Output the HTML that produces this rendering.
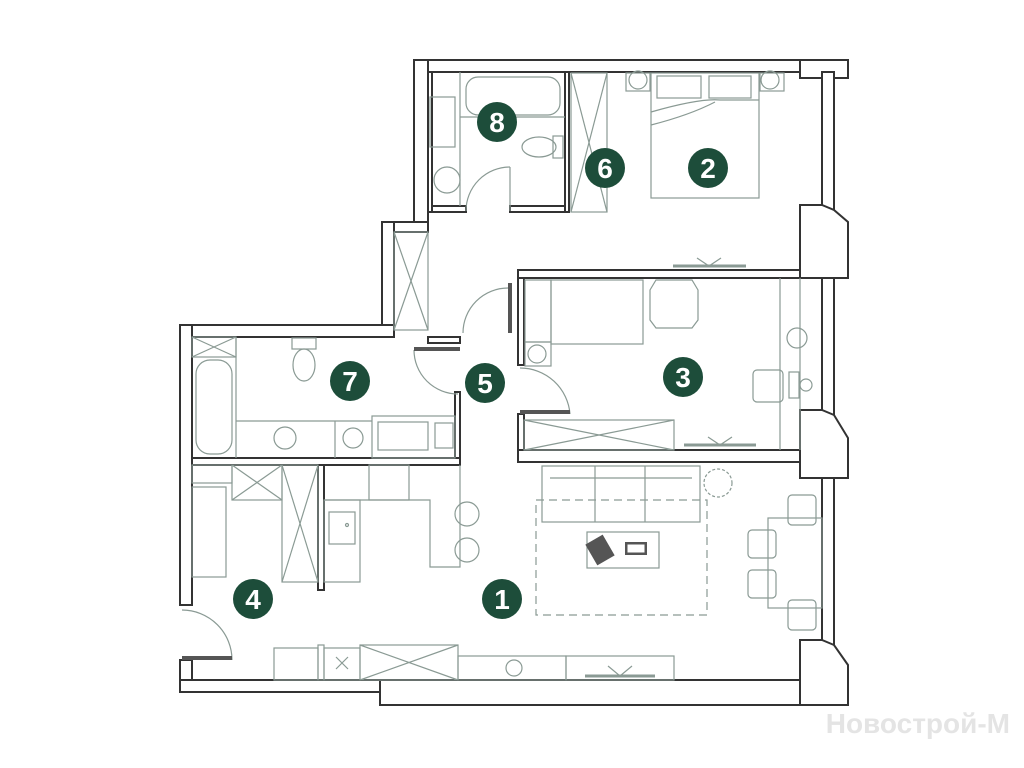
<!DOCTYPE html>
<html><head><meta charset="utf-8"><style>
html,body{margin:0;padding:0;background:#fff;}
svg{display:block}
</style></head><body>
<svg width="1024" height="768" viewBox="0 0 1024 768" xmlns="http://www.w3.org/2000/svg">
<rect width="1024" height="768" fill="#fff"/>
<g fill="#fff" stroke="#333" stroke-width="2">
<rect x="414" y="60" width="434" height="12"/>
<rect x="800" y="60" width="48" height="18"/>
<rect x="414" y="60" width="14" height="172"/>
<rect x="382" y="222" width="46" height="10"/>
<rect x="382" y="222" width="12" height="110"/>
<rect x="180" y="325" width="214" height="12"/>
<rect x="180" y="325" width="12" height="280"/>
<rect x="180" y="660" width="12" height="32"/>
<rect x="180" y="680" width="200" height="12"/>
<rect x="380" y="680" width="468" height="25"/>
<rect x="822" y="72" width="12" height="633"/>
<polygon points="800,205 822,205 834,210 848,222 848,278 800,278"/>
<polygon points="800,410 822,410 834,415 848,438 848,478 800,478"/>
<polygon points="800,640 822,640 834,645 848,665 848,705 800,705"/>
</g>
<g fill="#fff" stroke="#333" stroke-width="2">
<rect x="518" y="270" width="282" height="8"/>
<rect x="518" y="450" width="282" height="12"/>
<rect x="518" y="278" width="6" height="87"/>
<rect x="518" y="414" width="6" height="36"/>
<rect x="192" y="458" width="268" height="7"/>
<rect x="455" y="392" width="5" height="66"/>
<rect x="428" y="337" width="32" height="6"/>
<rect x="318" y="465" width="6" height="125"/>
<rect x="428" y="206" width="38" height="6"/>
<rect x="510" y="206" width="58" height="6"/>
<rect x="565" y="72" width="4" height="140"/>
<rect x="428" y="72" width="4" height="140"/>
</g>
<g fill="none" stroke="#8a9a94" stroke-width="1.2">
<rect x="466" y="77" width="94" height="38" rx="12"/>
<line x1="460" y1="117" x2="565" y2="117"/>
<line x1="460" y1="72" x2="460" y2="206"/>
<rect x="430" y="97" width="25" height="50"/>
<circle cx="447" cy="180" r="13"/>
<ellipse cx="539" cy="147" rx="17" ry="10"/>
<rect x="553" y="136" width="10" height="22"/>
<rect x="571" y="73" width="36" height="139"/>
<line x1="571" y1="73" x2="607" y2="212"/><line x1="607" y1="73" x2="571" y2="212"/>
<rect x="651" y="73" width="108" height="125"/>
<rect x="626" y="73" width="24" height="18"/><circle cx="638" cy="80" r="9"/>
<rect x="760" y="73" width="24" height="18"/><circle cx="770" cy="80" r="9"/>
<rect x="657" y="76" width="44" height="22"/><rect x="709" y="76" width="42" height="22"/>
<path d="M651 112 Q700 98 720 100 L759 100"/><path d="M651 125 Q690 115 715 102"/>
<line x1="673" y1="266" x2="746" y2="266" stroke-width="3"/>
<path d="M697 258 L709 266 L721 258"/>
<rect x="394" y="232" width="34" height="98"/>
<line x1="394" y1="232" x2="428" y2="330"/><line x1="428" y1="232" x2="394" y2="330"/>
<rect x="525" y="280" width="26" height="62"/>
<rect x="551" y="280" width="92" height="64"/>
<rect x="525" y="342" width="26" height="24"/><circle cx="537" cy="354" r="9"/>
<polygon points="656,280 692,280 698,290 698,320 692,328 656,328 650,320 650,290"/>
<line x1="780" y1="278" x2="780" y2="450"/><line x1="800" y1="278" x2="800" y2="450"/>
<circle cx="797" cy="338" r="10"/>
<rect x="753" y="370" width="30" height="32" rx="4"/>
<rect x="789" y="372" width="10" height="26"/>
<circle cx="806" cy="385" r="6"/>
<rect x="524" y="420" width="150" height="30"/>
<line x1="524" y1="420" x2="674" y2="450"/><line x1="674" y1="420" x2="524" y2="450"/>
<line x1="684" y1="445" x2="756" y2="445" stroke-width="3"/>
<path d="M708 437 L720 445 L732 437"/>
<rect x="192" y="337" width="44" height="20"/>
<line x1="192" y1="337" x2="236" y2="357"/><line x1="236" y1="337" x2="192" y2="357"/>
<rect x="196" y="360" width="36" height="94" rx="14"/>
<line x1="236" y1="337" x2="236" y2="458"/>
<ellipse cx="304" cy="365" rx="11" ry="16"/><rect x="292" y="338" width="24" height="11"/>
<line x1="236" y1="421" x2="372" y2="421"/>
<circle cx="285" cy="438" r="11"/>
<line x1="335" y1="421" x2="335" y2="458"/>
<circle cx="353" cy="438" r="10"/>
<rect x="372" y="416" width="83" height="42"/>
<rect x="378" y="422" width="50" height="28"/>
<rect x="435" y="423" width="18" height="25"/>
<rect x="192" y="465" width="40" height="18"/>
<rect x="192" y="487" width="34" height="90"/>
<rect x="232" y="465" width="50" height="35"/>
<line x1="232" y1="465" x2="282" y2="500"/><line x1="282" y1="465" x2="232" y2="500"/>
<rect x="282" y="465" width="36" height="117"/>
<line x1="282" y1="465" x2="318" y2="582"/><line x1="318" y1="465" x2="282" y2="582"/>
<rect x="324" y="500" width="36" height="82"/>
<rect x="329" y="512" width="26" height="32"/><circle cx="347" cy="525" r="1.5"/>
<rect x="369" y="465" width="40" height="35"/>
<path d="M324 500 L430 500 L430 567 L460 567 L460 465"/>
<circle cx="467" cy="514" r="12"/><circle cx="467" cy="550" r="12"/>
<rect x="274" y="648" width="44" height="32"/>
<rect x="318" y="645" width="6" height="35"/>
<rect x="324" y="648" width="36" height="32"/>
<path d="M336 657 L348 669 M348 657 L336 669"/>
<rect x="360" y="645" width="98" height="35"/>
<line x1="360" y1="645" x2="458" y2="680"/><line x1="458" y1="645" x2="360" y2="680"/>
<rect x="458" y="656" width="108" height="24"/>
<circle cx="514" cy="668" r="8"/>
<rect x="566" y="656" width="108" height="24"/>
<line x1="585" y1="676" x2="655" y2="676" stroke-width="3"/>
<path d="M608 666 L620 676 L632 666"/>
<rect x="542" y="466" width="158" height="56"/>
<line x1="595" y1="466" x2="595" y2="522"/><line x1="645" y1="466" x2="645" y2="522"/>
<line x1="550" y1="478" x2="692" y2="478"/>
<rect x="536" y="500" width="171" height="115" stroke-dasharray="8 5"/>
<rect x="587" y="532" width="72" height="36"/>
<circle cx="718" cy="483" r="14" stroke-dasharray="3 2"/>
<rect x="768" y="518" width="54" height="90"/>
<rect x="788" y="495" width="28" height="30" rx="4"/>
<rect x="788" y="600" width="28" height="30" rx="4"/>
<rect x="748" y="530" width="28" height="28" rx="4"/>
<rect x="748" y="570" width="28" height="28" rx="4"/>
<path d="M466 211 A44 44 0 0 1 510 167"/><line x1="510" y1="167" x2="510" y2="211"/>
<path d="M463 333 A45 45 0 0 1 508 288"/>
<path d="M414 350 A44 44 0 0 0 458 394"/>
<path d="M520 368 A50 50 0 0 1 570 414"/>
<path d="M182 610 A50 50 0 0 1 232 660"/>
</g>
<g fill="#555">
<rect x="590" y="538" width="20" height="24" transform="rotate(-30 600 550)"/>
<rect x="625" y="542" width="22" height="13"/>
<rect x="414" y="347" width="46" height="4"/>
<rect x="520" y="410" width="50" height="4"/>
<rect x="182" y="656" width="50" height="4"/>
<rect x="508" y="283" width="4" height="50"/>
</g>
<g fill="#fff" stroke="#555"><rect x="627" y="544" width="18" height="9"/></g>
<g fill="#1d4d3a">
<circle cx="497" cy="122" r="20"/><circle cx="605" cy="168" r="20"/><circle cx="708" cy="168" r="20"/>
<circle cx="350" cy="381" r="20"/><circle cx="485" cy="383" r="20"/><circle cx="683" cy="377" r="20"/>
<circle cx="253" cy="599" r="20"/><circle cx="502" cy="599" r="20"/>
</g>
<g fill="#fff" font-family="Liberation Sans, sans-serif" font-size="28" font-weight="bold" text-anchor="middle">
<text x="497" y="132">8</text><text x="605" y="178">6</text><text x="708" y="178">2</text>
<text x="350" y="391">7</text><text x="485" y="393">5</text><text x="683" y="387">3</text>
<text x="253" y="609">4</text><text x="502" y="609">1</text>
</g>
<text x="1010" y="733" text-anchor="end" font-family="Liberation Sans, sans-serif" font-size="28" font-weight="bold" fill="#e4e4e4">Новострой-М</text>
</svg>
</body></html>
